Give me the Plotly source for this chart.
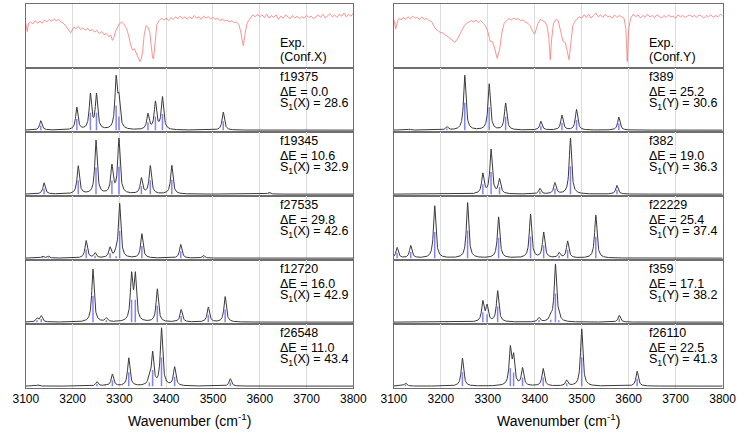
import numpy as np
import plotly.graph_objects as go

# ---------------- data ----------------
wn_min, wn_max = 3100, 3800
tick_vals = [3100, 3200, 3300, 3400, 3500, 3600, 3700, 3800]

expX_wn = [3100, 3103, 3106, 3110, 3115, 3120, 3125, 3130, 3135, 3140, 3145, 3150, 3155, 3160, 3165, 3170,
           3175, 3180, 3185, 3190, 3193, 3196, 3199, 3203, 3207, 3212, 3217, 3222, 3227, 3232, 3237, 3242,
           3247, 3252, 3257, 3262, 3267, 3272, 3277, 3282, 3285, 3288, 3292, 3296, 3300, 3305, 3310, 3315,
           3320, 3324, 3328, 3332, 3336, 3340, 3344, 3347, 3350, 3353, 3357, 3361, 3365, 3368, 3371, 3373,
           3376, 3380, 3385, 3390, 3395, 3400, 3405, 3410, 3415, 3420, 3425, 3430, 3435, 3440, 3445, 3450,
           3455, 3460, 3465, 3470, 3475, 3480, 3485, 3490, 3495, 3500, 3505, 3510, 3515, 3520, 3525, 3530,
           3535, 3540, 3545, 3550, 3555, 3559, 3562, 3565, 3568, 3572, 3576, 3580, 3585, 3590, 3595, 3600,
           3605, 3610, 3615, 3620, 3625, 3630, 3635, 3640, 3645, 3650, 3655, 3660, 3665, 3670, 3675, 3680,
           3685, 3690, 3695, 3700, 3705, 3710, 3715, 3720, 3725, 3730, 3735, 3740, 3745, 3750, 3755, 3760,
           3765, 3770, 3775, 3780, 3785, 3790, 3795, 3800]
expX_val = [0.70, 0.57, 0.70, 0.72, 0.69, 0.74, 0.70, 0.73, 0.70, 0.75, 0.72, 0.76, 0.73, 0.77, 0.74, 0.76,
            0.72, 0.70, 0.66, 0.62, 0.58, 0.55, 0.60, 0.64, 0.61, 0.65, 0.60, 0.63, 0.59, 0.62, 0.58, 0.60,
            0.56, 0.59, 0.54, 0.57, 0.52, 0.54, 0.49, 0.51, 0.43, 0.47, 0.58, 0.64, 0.69, 0.72, 0.68, 0.62,
            0.50, 0.36, 0.28, 0.30, 0.24, 0.17, 0.10, 0.15, 0.28, 0.52, 0.66, 0.64, 0.55, 0.35, 0.16, 0.14,
            0.40, 0.68, 0.74, 0.78, 0.75, 0.78, 0.74, 0.79, 0.76, 0.80, 0.77, 0.81, 0.77, 0.80, 0.76, 0.80,
            0.77, 0.82, 0.78, 0.80, 0.76, 0.81, 0.78, 0.80, 0.77, 0.79, 0.76, 0.78, 0.74, 0.77, 0.73, 0.75,
            0.72, 0.74, 0.71, 0.72, 0.68, 0.58, 0.45, 0.35, 0.50, 0.68, 0.74, 0.79, 0.83, 0.80, 0.84, 0.80,
            0.83, 0.79, 0.84, 0.78, 0.82, 0.79, 0.83, 0.76, 0.81, 0.78, 0.83, 0.80, 0.77, 0.82, 0.78, 0.81,
            0.77, 0.80, 0.78, 0.82, 0.79, 0.81, 0.77, 0.80, 0.83, 0.79, 0.84, 0.78, 0.82, 0.85, 0.80, 0.83,
            0.79, 0.84, 0.81, 0.86, 0.80, 0.84, 0.81, 0.86]

expY_wn = [3100, 3104, 3108, 3112, 3116, 3120, 3125, 3130, 3135, 3140, 3145, 3150, 3155, 3160, 3165, 3170,
           3175, 3180, 3185, 3190, 3195, 3200, 3205, 3210, 3215, 3220, 3225, 3230, 3235, 3240, 3245, 3250,
           3255, 3260, 3265, 3270, 3275, 3280, 3285, 3290, 3295, 3300, 3305, 3310, 3315, 3320, 3325, 3330,
           3335, 3340, 3345, 3350, 3355, 3360, 3365, 3370, 3375, 3380, 3385, 3390, 3395, 3400, 3403, 3407,
           3412, 3417, 3422, 3426, 3430, 3433, 3436, 3440, 3445, 3450, 3455, 3460, 3465, 3470, 3473, 3477,
           3481, 3485, 3490, 3495, 3500, 3505, 3510, 3515, 3520, 3525, 3530, 3535, 3540, 3545, 3550, 3555,
           3560, 3565, 3570, 3575, 3580, 3585, 3590, 3594, 3597, 3600, 3604, 3610, 3615, 3620, 3625, 3630,
           3635, 3640, 3645, 3650, 3655, 3660, 3665, 3670, 3675, 3680, 3685, 3690, 3695, 3700, 3705, 3710,
           3715, 3720, 3725, 3730, 3735, 3740, 3745, 3750, 3755, 3760, 3765, 3770, 3775, 3780, 3785, 3790,
           3795, 3800]
expY_val = [0.76, 0.61, 0.74, 0.78, 0.75, 0.79, 0.76, 0.80, 0.77, 0.81, 0.78, 0.79, 0.76, 0.80, 0.76, 0.77,
            0.74, 0.73, 0.66, 0.60, 0.58, 0.55, 0.55, 0.51, 0.49, 0.46, 0.42, 0.40, 0.45, 0.52, 0.60, 0.66,
            0.70, 0.72, 0.74, 0.72, 0.75, 0.71, 0.74, 0.70, 0.66, 0.57, 0.42, 0.41, 0.30, 0.15, 0.28, 0.55,
            0.70, 0.74, 0.77, 0.75, 0.78, 0.76, 0.77, 0.74, 0.75, 0.72, 0.70, 0.66, 0.58, 0.53, 0.60, 0.70,
            0.76, 0.74, 0.72, 0.66, 0.48, 0.13, 0.45, 0.70, 0.76, 0.74, 0.60, 0.42, 0.40, 0.25, 0.13, 0.40,
            0.66, 0.72, 0.77, 0.80, 0.78, 0.83, 0.79, 0.84, 0.78, 0.82, 0.86, 0.80, 0.83, 0.79, 0.84, 0.80,
            0.81, 0.78, 0.83, 0.79, 0.82, 0.80, 0.78, 0.62, 0.10, 0.60, 0.78, 0.84, 0.80, 0.83, 0.78, 0.82,
            0.79, 0.84, 0.80, 0.82, 0.79, 0.83, 0.80, 0.78, 0.82, 0.79, 0.83, 0.80, 0.81, 0.78, 0.83, 0.80,
            0.82, 0.79, 0.81, 0.83, 0.80, 0.82, 0.79, 0.83, 0.81, 0.78, 0.82, 0.80, 0.83, 0.79, 0.82, 0.80,
            0.84, 0.81]

# computed spectra: peak positions (cm-1) and intensities (relative)
f19375_pos = [3132, 3209, 3238, 3251, 3293, 3299, 3361, 3377, 3392, 3522]
f19375_int = [0.15, 0.36, 0.56, 0.56, 0.79, 0.44, 0.25, 0.44, 0.52, 0.29]
f19345_pos = [3139, 3212, 3250, 3284, 3299, 3347, 3366, 3412, 3620]
f19345_int = [0.18, 0.45, 0.86, 0.44, 0.88, 0.25, 0.45, 0.46, 0.03]
f27535_pos = [3136, 3148, 3229, 3248, 3280, 3293, 3300.5, 3348, 3431, 3480]
f27535_int = [0.03, 0.03, 0.28, 0.08, 0.16, 0.06, 0.87, 0.39, 0.22, 0.04]
f12720_pos = [3124, 3133, 3243.5, 3272, 3326, 3334, 3381, 3432, 3490, 3526]
f12720_int = [0.06, 0.10, 0.85, 0.06, 0.72, 0.72, 0.53, 0.20, 0.24, 0.41]
f26548_pos = [3126, 3252, 3270, 3285, 3320, 3364, 3371, 3390, 3418, 3537]
f26548_int = [0.02, 0.07, 0.02, 0.19, 0.45, 0.12, 0.52, 0.92, 0.30, 0.12]

f389_pos = [3133, 3213, 3251, 3303, 3338, 3413, 3458, 3489, 3579]
f389_int = [0.015, 0.05, 0.88, 0.74, 0.43, 0.14, 0.24, 0.33, 0.21]
f382_pos = [3289.5, 3307, 3325, 3411, 3443, 3476, 3575]
f382_int = [0.32, 0.71, 0.23, 0.09, 0.18, 0.90, 0.14]
f22229_pos = [3107, 3136, 3187, 3257, 3323, 3391, 3419, 3452, 3470, 3530]
f22229_int = [0.17, 0.20, 0.84, 0.89, 0.66, 0.70, 0.41, 0.08, 0.27, 0.69]
f359_pos = [3213, 3289.5, 3298.5, 3321, 3409, 3434, 3444, 3451, 3580]
f359_int = [0.01, 0.32, 0.25, 0.50, 0.07, 0.08, 0.92, 0.06, 0.11]
f26110_pos = [3107, 3125, 3246, 3348, 3355, 3374, 3418, 3468, 3500, 3618]
f26110_int = [0.01, 0.05, 0.45, 0.58, 0.44, 0.28, 0.28, 0.09, 0.92, 0.24]

left_names = ["f19375", "f19345", "f27535", "f12720", "f26548"]
left_dE = ["0.0", "10.6", "29.8", "16.0", "11.0"]
left_S1 = ["28.6", "32.9", "42.6", "42.9", "43.4"]
right_names = ["f389", "f382", "f22229", "f359", "f26110"]
right_dE = ["25.2", "19.0", "25.4", "17.1", "22.5"]
right_S1 = ["30.6", "36.3", "37.4", "38.2", "41.3"]

left_peaks = [(f19375_pos, f19375_int), (f19345_pos, f19345_int), (f27535_pos, f27535_int),
              (f12720_pos, f12720_int), (f26548_pos, f26548_int)]
right_peaks = [(f389_pos, f389_int), (f382_pos, f382_int), (f22229_pos, f22229_int),
               (f359_pos, f359_int), (f26110_pos, f26110_int)]

HWHM = 3.0
STICK_FRAC = 0.5

# ---------------- layout geometry ----------------
W, H = 753, 434
col_px = [(13.3, 353.0), (395.0, 736.0)]
top_px, bot_px = 4.0, 388.0
nrows = 6
row_h = (bot_px - top_px) / nrows

FONT = "Liberation Sans, Arial, sans-serif"
TXT = 12.5
grid_x = np.arange(wn_min, wn_max + 0.25, 0.5)

fig = go.Figure()
layout = dict(
    width=W, height=H, margin=dict(l=0, r=0, t=0, b=0),
    paper_bgcolor="white", plot_bgcolor="white", showlegend=False,
    font=dict(family=FONT, size=12, color="black"),
)
annotations = []


def lorentz_sum(pos, inten):
    y = np.zeros_like(grid_x)
    for p, a in zip(pos, inten):
        y += a / (1.0 + ((grid_x - p) / HWHM) ** 2)
    return y


k = 0
for c in range(2):
    x0, x1 = col_px[c]
    for r in range(nrows):
        k += 1
        xa = "x" if k == 1 else f"x{k}"
        ya = "y" if k == 1 else f"y{k}"
        yt = top_px + r * row_h
        yb = yt + row_h
        dom_y = [1 - yb / H, 1 - yt / H]
        dom_x = [x0 / W, x1 / W]
        bottom = (r == nrows - 1)
        layout["xaxis" if k == 1 else f"xaxis{k}"] = dict(
            domain=dom_x, anchor=ya, range=[wn_min, wn_max], tickvals=tick_vals,
            showticklabels=bottom, ticks="", showgrid=True, gridcolor="#dcdcdc", gridwidth=1,
            showline=True, linecolor="#6e6e6e", linewidth=1, mirror=True, zeroline=False,
            tickfont=dict(family=FONT, size=12, color="black"),
        )
        yr = [0, 1] if r == 0 else [-0.03, 1.0]
        layout["yaxis" if k == 1 else f"yaxis{k}"] = dict(
            domain=dom_y, anchor=xa, range=yr, showticklabels=False, ticks="",
            showgrid=False, zeroline=False, showline=True, linecolor="#6e6e6e",
            linewidth=1, mirror=True,
        )
        if r == 0:
            wn, val = (expX_wn, expX_val) if c == 0 else (expY_wn, expY_val)
            fig.add_trace(go.Scatter(x=wn, y=val, mode="lines", xaxis=xa, yaxis=ya,
                                     line=dict(color="rgba(255,110,110,0.75)", width=1)))
            conf = "(Conf.X)" if c == 0 else "(Conf.Y)"
            for txt, fy in (("Exp.", 0.39), (conf, 0.175)):
                annotations.append(dict(text=txt, x=3641, y=fy, xref=xa, yref=ya + " domain",
                                        xanchor="left", yanchor="middle", showarrow=False,
                                        borderpad=0, font=dict(family=FONT, size=TXT, color="black")))
        else:
            pos, inten = (left_peaks if c == 0 else right_peaks)[r - 1]
            spec = lorentz_sum(pos, inten)
            sx, sy = [], []
            for p, a in zip(pos, inten):
                sx += [p, p, None]
                sy += [0, a * STICK_FRAC, None]
            fig.add_trace(go.Scatter(x=sx, y=sy, mode="lines", xaxis=xa, yaxis=ya,
                                     line=dict(color="rgba(90,90,255,0.75)", width=1.5)))
            fig.add_trace(go.Scatter(x=grid_x, y=spec, mode="lines", xaxis=xa, yaxis=ya,
                                     line=dict(color="#3a3a3a", width=1)))
            names = left_names if c == 0 else right_names
            dEs = left_dE if c == 0 else right_dE
            S1s = left_S1 if c == 0 else right_S1
            lab = "X" if c == 0 else "Y"
            lines = [names[r - 1], f"ΔE = {dEs[r - 1]}", f"S<sub>1</sub>({lab}) = {S1s[r - 1]}"]
            for txt, fy in zip(lines, (0.855, 0.632, 0.43)):
                annotations.append(dict(text=txt, x=3641, y=fy, xref=xa, yref=ya + " domain",
                                        xanchor="left", yanchor="middle", showarrow=False,
                                        borderpad=0, font=dict(family=FONT, size=TXT, color="black")))
    # axis title
    annotations.append(dict(text="Wavenumber (cm<sup>-1</sup>)", x=(x0 + x1) / 2 / W, y=1 - 420 / H,
                            xref="paper", yref="paper", xanchor="center", yanchor="middle",
                            showarrow=False, font=dict(family=FONT, size=14, color="black")))

layout["annotations"] = annotations
fig.update_layout(**layout)
fig.write_html("out.html", config={"displayModeBar": False},
               post_script="document.body.style.margin='0';document.body.style.overflow='hidden';")
